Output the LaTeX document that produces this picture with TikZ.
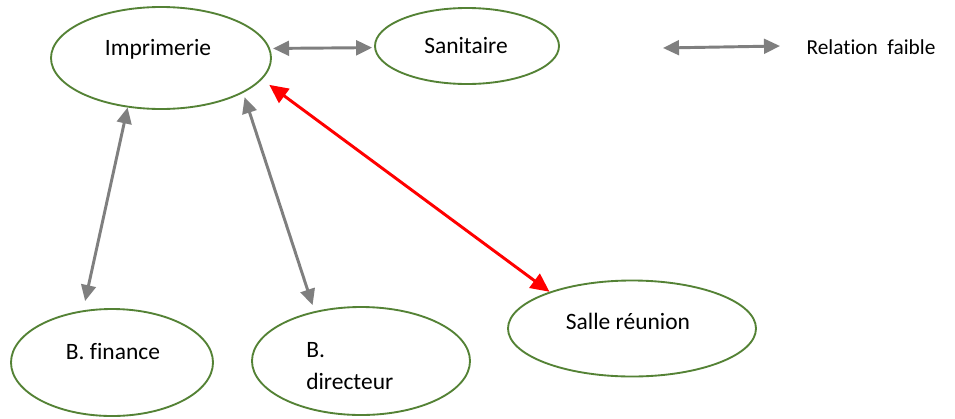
\documentclass[tikz,border=0pt]{standalone}
\usepackage{fontspec}
\setmainfont[Ligatures=NoCommon]{Carlito}
\usetikzlibrary{shapes.geometric,arrows.meta}
\definecolor{ellgreen}{RGB}{84,130,53}
\definecolor{relgray}{RGB}{127,127,127}
\definecolor{relred}{RGB}{255,0,0}
\tikzset{
  ell/.style={draw=ellgreen, line width=1.4pt, ellipse, inner sep=0pt, fill=white},
  lbl/.style={inner sep=0pt, font=\fontsize{17.6}{24}\selectfont, text=black},
  smalllbl/.style={inner sep=0pt, font=\fontsize{16}{19}\selectfont, text=black},
  weak/.style={draw=relgray, line width=2.2pt, {Triangle[length=12pt,width=11pt]}-{Triangle[length=12pt,width=11pt]}},
  strong/.style={draw=relred, line width=2.2pt, {Triangle[length=14pt,width=13pt]}-{Triangle[length=14pt,width=13pt]}}
}
\begin{document}
\begin{tikzpicture}[x=0.75pt,y=-0.75pt]
\useasboundingbox[fill=white] (0,0) rectangle (955,418);
% ellipses
\node[ell, minimum width=165pt, minimum height=76.5pt] (imp) at (161,58) {};
\node[ell, minimum width=138pt, minimum height=57pt] (san) at (467,46) {};
\node[ell, minimum width=151.5pt, minimum height=80.25pt] (fin) at (112,362.5) {};
\node[ell, minimum width=163.5pt, minimum height=81pt] (dir) at (361,361) {};
\node[ell, minimum width=186pt, minimum height=72pt] (sal) at (632,328.5) {};
% texts
\node[lbl] (impt) at (158,49) {Imprimerie};
\node[lbl] (sant) at (466,46) {Sanitaire};
\node[lbl] (fint) at (113,352) {B. finance};
\node[lbl, align=left, anchor=west] (dirt) at (306,366) {B.\\directeur};
\node[lbl] (salt) at (628,321) {Salle réunion};
\node[smalllbl] (leg) at (871,47) {Relation\ \ faible};
% connectors
\draw[weak, shorten <=2.25pt, shorten >=1.5pt] (imp.5.3) -- (san.181.2);
\draw[weak, shorten >=7.1pt] (imp.-124.5) -- (fin.119.5);
\draw[weak, shorten <=3.4pt, shorten >=4.8pt] (imp.-23.3) -- (dir.133.2);
\draw[strong, shorten <=6.8pt] (imp.-12.9) -- (sal.156.3);
% legend
\coordinate (lg1) at (663,48);
\coordinate (lg2) at (780,46);
\draw[weak] (lg1) -- (lg2);
\end{tikzpicture}
\end{document}
